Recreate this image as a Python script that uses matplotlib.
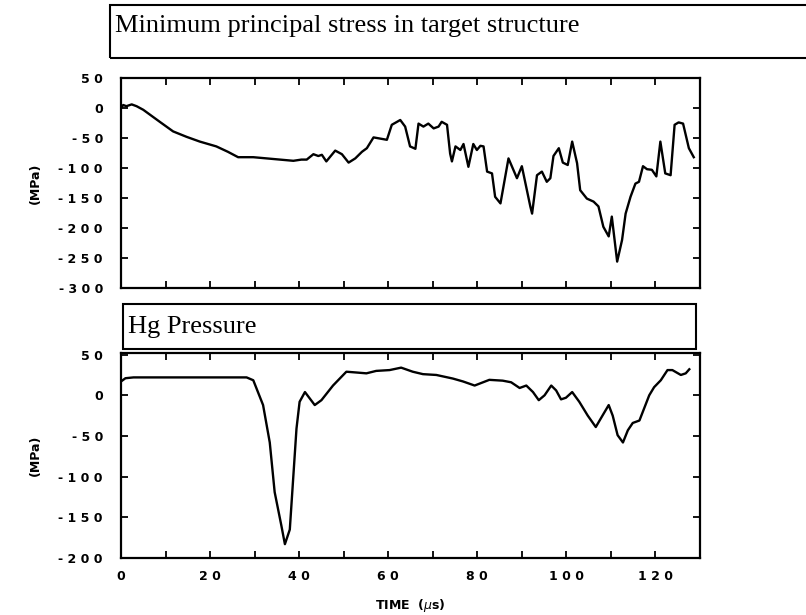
import matplotlib
matplotlib.use('Agg')
import matplotlib.pyplot as plt
from matplotlib.patches import Rectangle
from matplotlib.ticker import MultipleLocator, FuncFormatter

# minimum principal stress in target structure (MPa) vs time (us)
t_stress = [0, 0.5, 1.2, 2.4, 3.5, 5, 8.7, 11.7, 14.7, 17.7, 21.4, 24, 26.3,
            29.7, 32.7, 35.7, 38.7, 40.5, 41.7, 43.2, 44.3, 45.1, 46.1, 48.1,
            49.6, 51.1, 52.6, 54.1, 55.2, 56.7, 58.2, 59.7, 60.8, 62.7, 63.8,
            64.9, 66.1, 66.8, 67.9, 69, 70.2, 71.3, 72, 73.2, 73.9, 74.3, 75.1,
            76.2, 76.9, 78, 79.1, 79.9, 80.7, 81.4, 82.2, 83.3, 84, 85.2, 87,
            88.9, 90, 91.9, 92.3, 93.4, 94.5, 95.6, 96.4, 97.1, 98.3, 99.2,
            100.3, 101.3, 102.4, 103.1, 104.6, 106.1, 107.2, 108.3, 109.5,
            110.2, 111.4, 112.5, 113.3, 114.4, 115.5, 116.3, 117.2, 118.1,
            119.2, 120.2, 121.1, 122.2, 123.4, 124.3, 125.2, 126.2, 127.5, 128.6]
stress = [0, 5, 3, 6, 3, -3, -23, -39, -48, -56, -64, -73, -82,
          -82, -84, -86, -88, -86, -86, -77, -80, -78, -89, -71,
          -77, -91, -84, -73, -67, -49, -51, -53, -28, -20, -31,
          -64, -68, -26, -31, -26, -34, -31, -23, -28, -76, -89, -64,
          -70, -60, -98, -60, -70, -63, -64, -106, -109, -148, -159, -84,
          -117, -97, -164, -176, -112, -106, -123, -117, -80, -67, -91,
          -95, -56, -92, -137, -151, -156, -164, -198, -214,
          -181, -256, -220, -176, -148, -126, -123, -97, -102,
          -103, -114, -56, -109, -112, -28, -24, -26, -67, -82]

# Hg pressure (MPa) vs time (us)
t_hg = [0, 1, 2.8, 10, 20, 28.2, 29.7, 31.9, 33.4, 34.5, 36, 36.8, 37.9,
        39.4, 40.1, 41.3, 42.4, 43.5, 45, 47.6, 50.6, 52.9, 55.1, 57.3, 60.3,
        62.9, 65.5, 67.8, 70.8, 74.5, 76.8, 79.4, 82.7, 85.7, 87.6, 89.5, 91,
        92.5, 93.8, 95.1, 96.6, 97.7, 98.8, 99.9, 101.3, 102.9, 104.8, 106.6,
        108.1, 109.5, 110.4, 111.5, 112.7, 113.8, 114.9, 116.4, 118.6, 119.7,
        121.2, 122.7, 123.8, 125.7, 126.8, 127.6]
hg = [17, 21, 22, 22, 22, 22, 18.5, -12, -58, -119, -160, -183, -165,
      -41, -8, 4, -4, -12, -6, 12, 29, 28, 27, 30, 31,
      34, 29, 26, 25, 20.6, 17, 12, 19, 18, 16, 9, 12,
      4, -6, 0, 12, 6, -5, -3, 4, -8, -25, -39,
      -25, -12, -25, -49, -58, -43, -34, -31, 0, 10,
      18.5, 31, 31, 25, 27, 32]

W, H = 806, 615
fig = plt.figure(figsize=(W / 100, H / 100), dpi=100)


def fx(px):
    return px / W


def fy(py):
    return 1 - py / H


spaced = FuncFormatter(lambda v, p: ' '.join('%d' % v) if abs(v) > 1e-9 else '0')
tick_font = dict(family='DejaVu Sans', weight='bold', size=9)


def style_axes(ax, ymajor):
    ax.set_xlim(0, 130)
    ax.xaxis.set_major_locator(MultipleLocator(20))
    ax.xaxis.set_minor_locator(MultipleLocator(10))
    ax.yaxis.set_major_locator(MultipleLocator(ymajor))
    ax.tick_params(which='both', direction='in', top=True, right=True,
                   length=5, width=1.3)
    ax.tick_params(axis='y', pad=13)
    ax.tick_params(axis='x', pad=9)
    ax.yaxis.set_major_formatter(spaced)
    ax.xaxis.set_major_formatter(spaced)
    for lab in ax.get_xticklabels() + ax.get_yticklabels():
        lab.set(**tick_font)
    for s in ax.spines.values():
        s.set_linewidth(1.6)


ax1 = fig.add_axes([fx(121), fy(288), fx(700) - fx(121), fy(78) - fy(288)])
ax1.plot(t_stress, stress, color='black', lw=1.7)
ax1.set_ylim(-300, 50)
style_axes(ax1, 50)
ax1.tick_params(axis='x', labelbottom=False)

ax2 = fig.add_axes([fx(121), fy(558), fx(700) - fx(121), fy(353) - fy(558)])
ax2.plot(t_hg, hg, color='black', lw=1.7)
ax2.set_ylim(-200, 52)
style_axes(ax2, 50)
ax2.set_xlabel('TIME  ($\\mu$s)', fontsize=9, fontweight='bold', labelpad=10)

# title boxes
fig.add_artist(Rectangle((fx(110), fy(58)), 1.02 - fx(110), fy(5) - fy(58),
                         transform=fig.transFigure, fill=False, lw=1.5,
                         ec='black', clip_on=False))
fig.add_artist(Rectangle((fx(123), fy(349)), fx(696) - fx(123), fy(304) - fy(349),
                         transform=fig.transFigure, fill=False, lw=1.5,
                         ec='black'))
fig.text(fx(115), fy(32), 'Minimum principal stress in target structure',
         family='Liberation Serif', size=19, va='baseline')
fig.text(fx(128), fy(333), 'Hg Pressure',
         family='Liberation Serif', size=19, va='baseline')

fig.text(fx(35), fy(183), '(MPa)', rotation=90, ha='center', va='center',
         fontsize=9, fontweight='bold')
fig.text(fx(35), fy(455), '(MPa)', rotation=90, ha='center', va='center',
         fontsize=9, fontweight='bold')

fig.savefig('out.png', dpi=100)
